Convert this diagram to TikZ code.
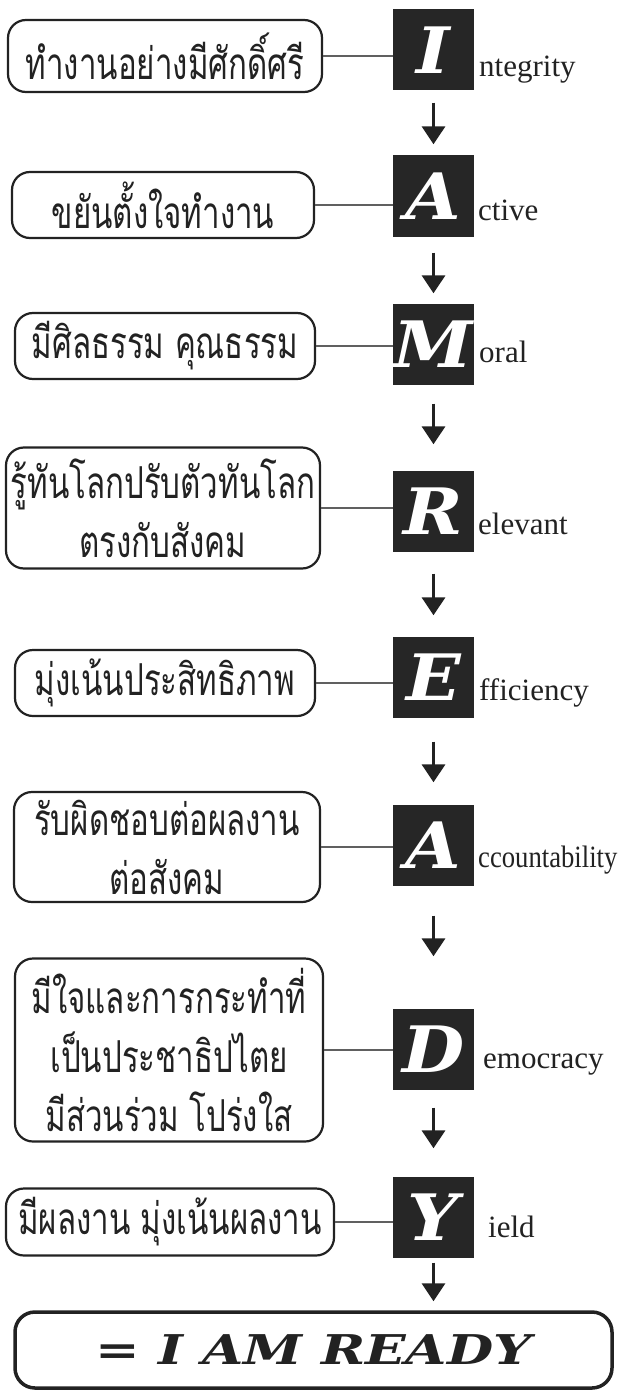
\documentclass[tikz,border=0pt]{standalone}
\usepackage{fontspec}
\setmainfont{Liberation Serif}
\newfontfamily\thaifont[Script=Thai]{Loma}
\newfontfamily\slabfont{DejaVu Serif}
\usetikzlibrary{arrows.meta}
\definecolor{ink}{HTML}{222222}
\definecolor{sqfill}{HTML}{262626}
\definecolor{connc}{HTML}{606060}
\newcommand\thx{0.71}
\newcommand\thl[1]{\scalebox{\thx}[1]{#1}}
\newcommand\sqletter[1]{\scalebox{1.12}[1]{#1}}
\tikzset{
  sq/.style={fill=sqfill, draw=none, minimum size=81pt, inner sep=0pt, text=white,
    font=\slabfont\bfseries\itshape\fontsize{64}{64}\selectfont},
  word/.style={anchor=base west, inner sep=0pt, text=ink, font=\fontsize{31}{31}\selectfont},
  tbox/.style={draw=ink, line width=2.2pt, rounded corners=18pt, inner sep=0pt,
    align=center, text=ink, font=\thaifont\fontsize{44}{59}\selectfont},
  conn/.style={draw=connc, line width=1.5pt},
  arr/.style={draw=ink, line width=3.5pt, -{Triangle[width=23pt,length=18pt]}},
  finalbox/.style={draw=ink, line width=3.5pt, rounded corners=20pt, inner sep=0pt,
    text=ink, font=\slabfont\bfseries\itshape\fontsize{41}{41}\selectfont},
}
\begin{document}
\begin{tikzpicture}[x=1pt,y=-1pt]
\fill[white] (0,0) rectangle (626,1391);
\useasboundingbox (0,0) rectangle (626,1391);

% squares
\node[sq] (s1) at (433.5,50) {\sqletter{I}};
\node[sq] (s2) at (433.5,196) {\sqletter{A}};
\node[sq] (s3) at (433.5,344) {\sqletter{M}};
\node[sq] (s4) at (433.5,511) {\sqletter{R}};
\node[sq] (s5) at (433.5,677) {\sqletter{E}};
\node[sq] (s6) at (433.5,845) {\sqletter{A}};
\node[sq] (s7) at (433.5,1049) {\sqletter{D}};
\node[sq] (s8) at (433.5,1217) {\sqletter{Y}};

% words
\node[word] (w1) at (479,77) {ntegrity};
\node[word] (w2) at (478,220) {ctive};
\node[word] (w3) at (479,362) {oral};
\node[word] (w4) at (478,534) {elevant};
\node[word] (w5) at (479,700) {fficiency};
\node[word] (w6) at (478,867) {\scalebox{0.86}[1]{ccountability}};
\node[word] (w7) at (483,1068) {emocracy};
\node[word] (w8) at (488,1237) {ield};

% text boxes
\node[tbox, minimum width=314pt, minimum height=72pt] (b1) at (165,56) {\thl{ทำงานอย่างมีศักดิ์ศรี}};
\node[tbox, minimum width=302pt, minimum height=66pt] (b2) at (163,205) {\thl{ขยันตั้งใจทำงาน}};
\node[tbox, minimum width=300pt, minimum height=66pt] (b3) at (165,346) {\thl{มีศิลธรรม คุณธรรม}};
\node[tbox, minimum width=314pt, minimum height=121pt] (b4) at (163,508) {\thl{รู้ทันโลกปรับตัวทันโลก}\\\thl{ตรงกับสังคม}};
\node[tbox, minimum width=300pt, minimum height=66pt] (b5) at (165,683) {\thl{มุ่งเน้นประสิทธิภาพ}};
\node[tbox, minimum width=306pt, minimum height=110pt] (b6) at (167,847) {\thl{รับผิดชอบต่อผลงาน}\\\thl{ต่อสังคม}};
\node[tbox, minimum width=308pt, minimum height=183pt] (b7) at (169,1050) {\thl{มีใจและการกระทำที่}\\\thl{เป็นประชาธิปไตย}\\\thl{มีส่วนร่วม โปร่งใส}};
\node[tbox, minimum width=328pt, minimum height=67pt] (b8) at (170,1222) {\thl{มีผลงาน มุ่งเน้นผลงาน}};

\node[finalbox, minimum width=597pt, minimum height=76pt] (bb) at (313.5,1350) {\scalebox{1.3}[1]{= I AM READY}};

% connectors
\draw[conn] (b1.east) -- (b1.east -| s1.west);
\draw[conn] (b2.east) -- (b2.east -| s2.west);
\draw[conn] (b3.east) -- (b3.east -| s3.west);
\draw[conn] (b4.east) -- (b4.east -| s4.west);
\draw[conn] (b5.east) -- (b5.east -| s5.west);
\draw[conn] (b6.east) -- (b6.east -| s6.west);
\draw[conn] (b7.east) -- (b7.east -| s7.west);
\draw[conn] (b8.east) -- (b8.east -| s8.west);

% arrows
\draw[arr, shorten <=12pt, shorten >=11pt] (s1.south) -- (s2.north);
\draw[arr, shorten <=16pt, shorten >=10pt] (s2.south) -- (s3.north);
\draw[arr, shorten <=19pt, shorten >=26pt] (s3.south) -- (s4.north);
\draw[arr, shorten <=22pt, shorten >=21pt] (s4.south) -- (s5.north);
\draw[arr, shorten <=24pt, shorten >=22pt] (s5.south) -- (s6.north);
\draw[arr, shorten <=30pt, shorten >=52pt] (s6.south) -- (s7.north);
\draw[arr, shorten <=18pt, shorten >=28pt] (s7.south) -- (s8.north);
\draw[arr, shorten <=5pt, shorten >=9pt] (s8.south) -- (s8.south |- bb.north);
\end{tikzpicture}
\end{document}
